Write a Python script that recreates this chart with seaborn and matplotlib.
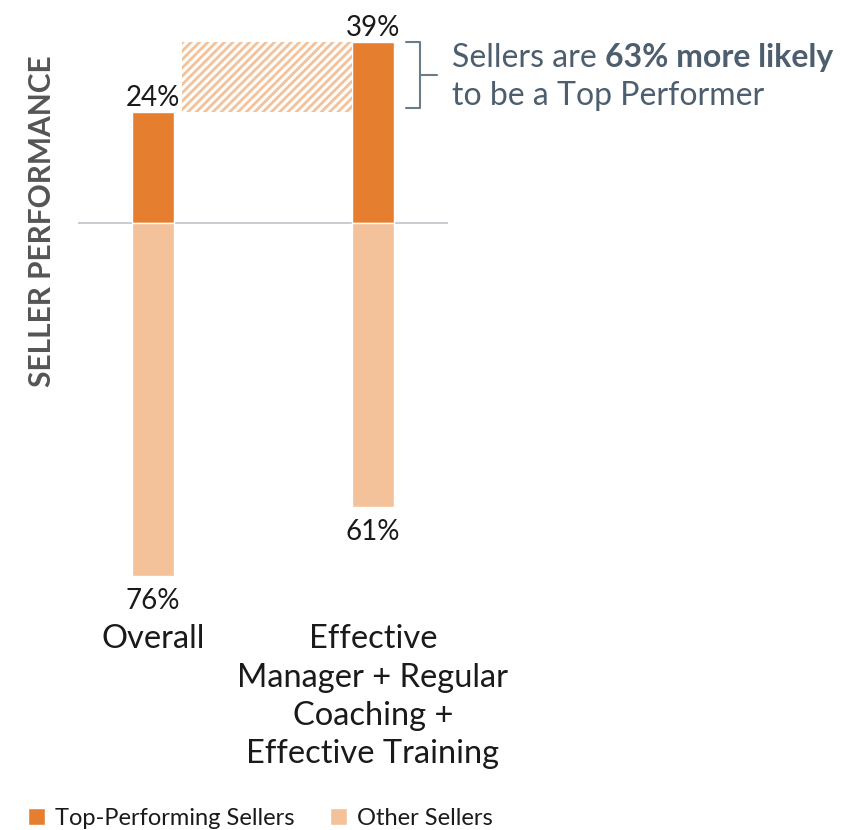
import matplotlib
matplotlib.use("Agg")
import matplotlib.pyplot as plt
import seaborn as sns
import pandas as pd
from matplotlib.patches import Patch

categories = ["Overall", "Effective\nManager + Regular\nCoaching +\nEffective Training"]
top_performers = [24, 39]
other_sellers = [76, 61]
series_names = ["Top-Performing Sellers", "Other Sellers"]
ylabel_text = "SELLER PERFORMANCE"

DARK = "#E67E30"
LIGHT = "#F3C29A"
SLATE = "#4D5E6E"

sns.set_theme(style="white")
plt.rcParams["font.family"] = ["Lato", "DejaVu Sans"]
plt.rcParams["hatch.linewidth"] = 2.0

fig = plt.figure(figsize=(8.66, 8.30), dpi=100)
ax = fig.add_axes([78 / 866, (830 - 595) / 830, 370 / 866, 576 / 830])

df = pd.DataFrame({"cat": categories, "top": top_performers,
                   "other": [-v for v in other_sellers]})
sns.barplot(data=df, x="cat", y="top", color=DARK, saturation=1, width=0.19, ax=ax)
sns.barplot(data=df, x="cat", y="other", color=LIGHT, saturation=1, width=0.19, ax=ax)

# hatched gap between the two top-performer values
ax.bar([0.518], [top_performers[1] - top_performers[0]], bottom=top_performers[0],
       width=0.773, facecolor="none", edgecolor=LIGHT, hatch="////", linewidth=0)

ax.set_xlim(-0.341, 1.341)
ax.set_ylim(-80, 44)
ax.axhline(0, color="#BFC4C8", lw=1.2, zorder=0)

for i, (t, o) in enumerate(zip(top_performers, other_sellers)):
    ax.annotate(f"{t}%", (i, t), xytext=(0, 1), textcoords="offset points",
                ha="center", va="bottom", fontsize=20, color="#1a1a1a")
    ax.annotate(f"{o}%", (i, -o), xytext=(0, -8.5), textcoords="offset points",
                ha="center", va="top", fontsize=20, color="#1a1a1a")

ax.set_xticks([0, 1])
ax.set_xticklabels(categories, fontsize=23.5, color="#1a1a1a", linespacing=1.35)
ax.tick_params(axis="x", length=0, pad=21)
ax.set_xlabel("")
ax.set_yticks([])
ax.set_ylabel("")
for s in ax.spines.values():
    s.set_visible(False)

fig.text(42 / 866, 1 - 221 / 830, ylabel_text, rotation=90, ha="center", va="center",
         fontsize=21.5, fontweight="bold", color="#555555")

# bracket
bx0, bx1, bx2 = 406 / 866, 420 / 866, 437 / 866
yt, yb, ym = 1 - 42 / 830, 1 - 108 / 830, 1 - 75 / 830
fig.add_artist(plt.Line2D([bx0, bx1, bx1, bx0], [yt, yt, yb, yb], color="#6A7B8A", lw=1.5))
fig.add_artist(plt.Line2D([bx1, bx2], [ym, ym], color="#6A7B8A", lw=1.5))

t1 = fig.text(452 / 866, 1 - 58 / 830, "Sellers are ", ha="left", va="center",
              fontsize=23, color=SLATE)
fig.canvas.draw()
r = fig.canvas.get_renderer()
bb = t1.get_window_extent(r)
fig.text(bb.x1 / 866, 1 - 58 / 830, "63% more likely", ha="left", va="center",
         fontsize=23, color=SLATE, fontweight="bold")
fig.text(452 / 866, 1 - 96 / 830, "to be a Top Performer", ha="left", va="center",
         fontsize=23, color=SLATE)

handles = [Patch(facecolor=DARK, label=series_names[0]),
           Patch(facecolor=LIGHT, label=series_names[1])]
fig.legend(handles=handles, loc="center left", bbox_to_anchor=(28 / 866, 1 - 818 / 830),
           ncol=2, frameon=False, fontsize=17, handlelength=0.7, handleheight=0.7,
           handletextpad=0.45, columnspacing=1.5, borderaxespad=0, borderpad=0,
           labelcolor="#1a1a1a")

fig.savefig("out.png", dpi=100)
